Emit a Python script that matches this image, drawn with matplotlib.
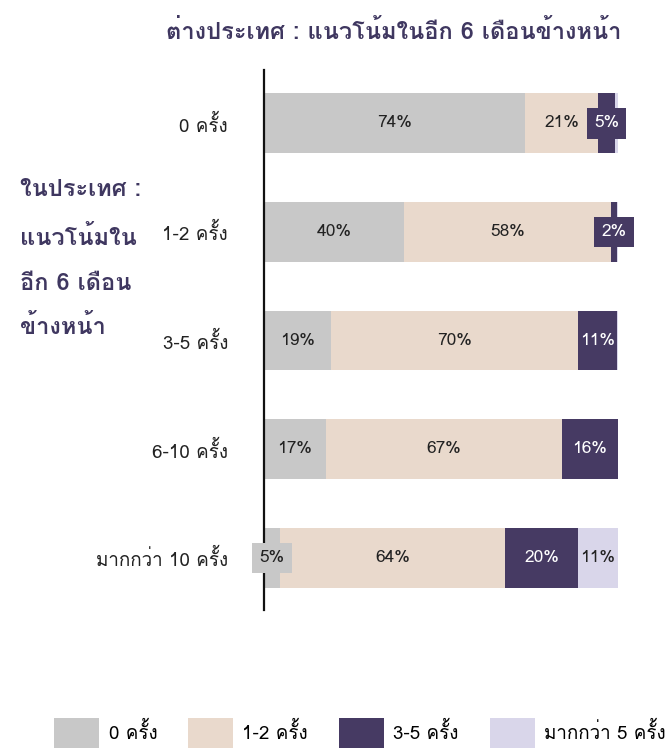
import numpy as np
import matplotlib
matplotlib.use("Agg")
import matplotlib.pyplot as plt
from matplotlib.patches import Patch

plt.rcParams['font.family'] = ['Loma', 'Noto Sans Thai Looped', 'DejaVu Sans']

# domestic outlook (rows) vs foreign outlook (segments), percent
rows = ['0 ครั้ง', '1-2 ครั้ง', '3-5 ครั้ง', '6-10 ครั้ง', 'มากกว่า 10 ครั้ง']
series = ['0 ครั้ง', '1-2 ครั้ง', '3-5 ครั้ง', 'มากกว่า 5 ครั้ง']
zero = [73.6, 39.6, 18.9, 17.4, 4.6]
one_two = [20.9, 58.4, 69.8, 66.8, 63.6]
three_five = [4.6, 1.7, 11.0, 15.8, 20.4]
more_five = [0.9, 0.3, 0.3, 0.0, 11.4]

colors = ['#c8c8c8', '#e9d9cc', '#463a63', '#d9d6ea']
text_colors = ['#222222', '#222222', 'white', '#222222']
title_color = '#3f3760'

data = np.array([zero, one_two, three_five, more_five])

fig = plt.figure(figsize=(6.69, 7.51), dpi=100)
ax = fig.add_axes([0.3946, 0.1877, 0.5291, 0.7191])

y = np.arange(len(rows))
left = np.zeros(len(rows))
for i, vals in enumerate(data):
    ax.barh(y, vals, left=left, height=0.55, color=colors[i], edgecolor='none')
    for j, v in enumerate(vals):
        if v >= 1.5:
            cx = left[j] + v / 2
            label = f"{round(v)}%"
            # small segments get a box so the label stays readable
            if v < 6:
                ax.text(cx, j, label, ha='center', va='center', fontsize=12.5,
                        color=text_colors[i],
                        bbox=dict(boxstyle='square,pad=0.42', fc=colors[i], ec='none'))
            else:
                ax.text(cx, j, label, ha='center', va='center', fontsize=12.5,
                        color=text_colors[i])
    left += vals

ax.set_xlim(0, 100)
ax.set_ylim(4.48, -0.49)
ax.set_yticks(y)
ax.set_yticklabels(rows, fontsize=13.5, color='#222222')
ax.tick_params(axis='y', length=0, pad=26)
ax.set_xticks([])
for s in ['top', 'right', 'bottom']:
    ax.spines[s].set_visible(False)
ax.spines['left'].set_linewidth(1.6)
ax.spines['left'].set_color('#111111')

fig.text(0.588, 0.957, 'ต่างประเทศ : แนวโน้มในอีก 6 เดือนข้างหน้า', ha='center', va='center',
         fontsize=17, fontweight='bold', color=title_color)

side_lines = ['ในประเทศ :', 'แนวโน้มใน', 'อีก 6 เดือน', 'ข้างหน้า']
side_y = [190, 238, 283, 327]
for txt, py in zip(side_lines, side_y):
    fig.text(0.03, 1 - py / 751, txt, ha='left', va='center', fontsize=17,
             fontweight='bold', color=title_color)

handles = [Patch(facecolor=c, edgecolor='none') for c in colors]
fig.legend(handles, series, loc='center', bbox_to_anchor=(0.538, 0.024), ncol=4,
           frameon=False, fontsize=13.5, handlelength=2.4, handleheight=2.1,
           handletextpad=0.5, columnspacing=1.65, borderpad=0.1)

fig.savefig('out.png', dpi=100)
